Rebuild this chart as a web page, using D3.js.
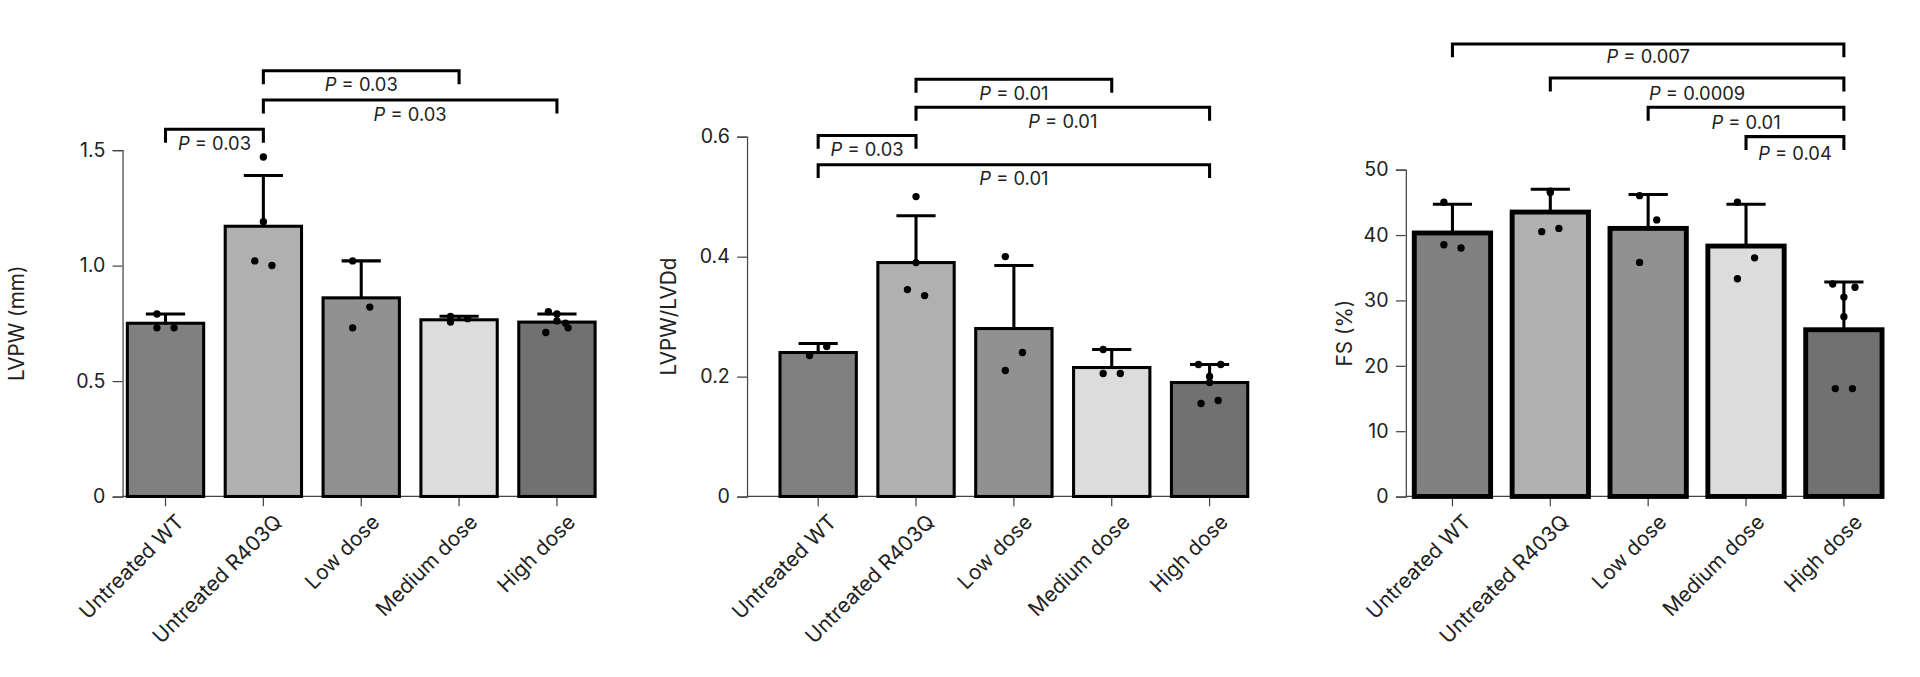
<!DOCTYPE html>
<html><head><meta charset="utf-8">
<script src="https://cdn.jsdelivr.net/npm/d3@7"></script>
<style>body{margin:0;background:#fff}text{font-family:Inter,"Noto Sans",sans-serif;fill:#222}</style>
</head><body>
<svg id="c" width="1920" height="677" viewBox="0 0 1568 555" preserveAspectRatio="none"></svg>
<script>
const categories = ["Untreated WT", "Untreated R403Q", "Low dose", "Medium dose", "High dose"];
const barColors = ["#808080", "#b0b0b0", "#919191", "#dcdcdc", "#717171"];

const lvpwMeans = [0.75, 1.17, 0.86, 0.765, 0.755];
const lvpwErr = [0.79, 1.39, 1.02, 0.78, 0.79];
const lvpwPoints = [[0.73, 0.73, 0.79], [1.47, 1.19, 1.02, 1.0], [1.02, 0.82, 0.73], [0.755, 0.77, 0.78], [0.71, 0.73, 0.76, 0.79, 0.80, 0.75]];
const lvpwTicks = [0, 0.5, 1.0, 1.5];

const ratioMeans = [0.24, 0.39, 0.28, 0.215, 0.19];
const ratioErr = [0.255, 0.468, 0.385, 0.245, 0.22];
const ratioPoints = [[0.235, 0.25], [0.5, 0.39, 0.345, 0.335], [0.4, 0.24, 0.21], [0.245, 0.205, 0.205], [0.22, 0.22, 0.2, 0.19, 0.155, 0.16]];
const ratioTicks = [0, 0.2, 0.4, 0.6];

const fsMeans = [40.3, 43.5, 41.0, 38.3, 25.5];
const fsErr = [44.7, 47, 46.2, 44.7, 32.8];
const fsPoints = [[45, 38, 38.5], [46.5, 46.7, 40.5, 41], [46, 42.3, 35.8], [45, 36.5, 33.3], [32.5, 32, 30.5, 27.5, 16.5, 16.5]];
const fsTicks = [0, 10, 20, 30, 40, 50];

// brackets: [from, to, p value, line y, label y]
const lvpwBrackets = [[0, 1, "0.03", 106, 118], [1, 3, "0.03", 58, 70], [1, 4, "0.03", 82, 94]];
const ratioBrackets = [[1, 3, "0.01", 65, 77], [1, 4, "0.01", 88, 100], [0, 1, "0.03", 111, 123], [0, 4, "0.01", 135, 147]];
const fsBrackets = [[0, 4, "0.007", 36, 47], [1, 4, "0.0009", 64, 77], [2, 4, "0.01", 88, 101], [3, 4, "0.04", 112, 126]];

const svg = d3.select("#c");

function panel(cfg) {
  const g = svg.append("g");
  const x = d3.scaleBand().domain(categories).range([cfg.b0, cfg.b1]).paddingInner(0.22).paddingOuter(0);
  const y = d3.scaleLinear().domain([0, cfg.max]).range([407, cfg.yTop]);
  const cx = i => x(categories[i]) + x.bandwidth() / 2;

  g.append("g").attr("transform", `translate(${cfg.x0},0)`)
    .call(d3.axisLeft(y).tickValues(cfg.ticks).tickSize(8).tickPadding(6).tickFormat(cfg.fmt))
    .call(a => a.selectAll("text").attr("font-size", 16).style("fill", "#222"))
    .call(a => a.selectAll("line,path").attr("stroke", "#444"));
  g.append("g").attr("transform", "translate(0,407)")
    .call(d3.axisBottom(x).tickSize(8).tickPadding(4))
    .call(a => a.select(".domain").attr("d", `M${cfg.x0},0H${cfg.b1}`).attr("stroke", "#444"))
    .call(a => a.selectAll("line").attr("stroke", "#444"))
    .call(a => a.selectAll("text").attr("font-size", 17).style("fill", "#222")
      .attr("text-anchor", "end").attr("transform", "translate(4,10) rotate(-45)").attr("dy", "0.3em"));

  g.append("text").attr("transform", `translate(${cfg.x0 - cfg.labelOff},${(407 + cfg.yTop) / 2}) rotate(-90)`)
    .attr("text-anchor", "middle").attr("dy", "0.35em").attr("font-size", 17).text(cfg.label);

  const data = categories.map((c, i) => ({ i, c, m: cfg.means[i], e: cfg.err[i], p: cfg.points[i] }));
  g.selectAll(".eb").data(data).enter().append("path")
    .attr("d", d => `M${cx(d.i)},${y(d.m)}V${y(d.e)}M${cx(d.i) - 16},${y(d.e)}H${cx(d.i) + 16}`)
    .attr("stroke", "#000").attr("stroke-width", 2.5).attr("fill", "none");
  g.selectAll(".bar").data(data).enter().append("rect")
    .attr("x", d => x(d.c)).attr("width", x.bandwidth())
    .attr("y", d => y(d.m)).attr("height", d => 407 - y(d.m))
    .attr("fill", d => barColors[d.i]).attr("stroke", "#000").attr("stroke-width", cfg.sw);
  data.forEach(d => {
    const n = d.p.length;
    g.selectAll(null).data(d.p).enter().append("circle")
      .attr("cx", (v, k) => cx(d.i) + (n > 1 ? (k % 2 ? 7 : -7) * (n > 4 ? (k < 2 ? 1.3 : k < 4 ? 0 : 1) : (k < 2 && n > 3 ? 0 : 1)) : 0))
      .attr("cy", v => y(v)).attr("r", 3).attr("fill", "#000");
  });

  cfg.brackets.forEach(([a, b, lab, ly, ty]) => {
    g.append("path").attr("d", `M${cx(a)},${ly + 11}V${ly}H${cx(b)}V${ly + 11}`)
      .attr("stroke", "#000").attr("stroke-width", 2.5).attr("fill", "none");
    const t = g.append("text").attr("x", (cx(a) + cx(b)) / 2).attr("y", ty + 5)
      .attr("text-anchor", "middle").attr("font-size", 15);
    t.append("tspan").attr("font-style", "italic").text("P");
    t.append("tspan").text(" = " + lab);
  });
}

panel({ x0: 100, b0: 104, b1: 486, max: 1.5, yTop: 123, ticks: lvpwTicks, fmt: d => d === 0 ? "0" : d3.format(".1f")(d),
  label: "LVPW (mm)", labelOff: 86, means: lvpwMeans, err: lvpwErr, points: lvpwPoints, brackets: lvpwBrackets, sw: 2.5 });
panel({ x0: 610, b0: 637, b1: 1019, max: 0.6, yTop: 112, ticks: ratioTicks, fmt: d => d === 0 ? "0" : d3.format(".1f")(d),
  label: "LVPW/LVDd", labelOff: 64, means: ratioMeans, err: ratioErr, points: ratioPoints, brackets: ratioBrackets, sw: 2.5 });
panel({ x0: 1148, b0: 1155, b1: 1537, max: 50, yTop: 139, ticks: fsTicks, fmt: d3.format("d"),
  label: "FS (%)", labelOff: 50, means: fsMeans, err: fsErr, points: fsPoints, brackets: fsBrackets, sw: 4 });
</script>
</body></html>
